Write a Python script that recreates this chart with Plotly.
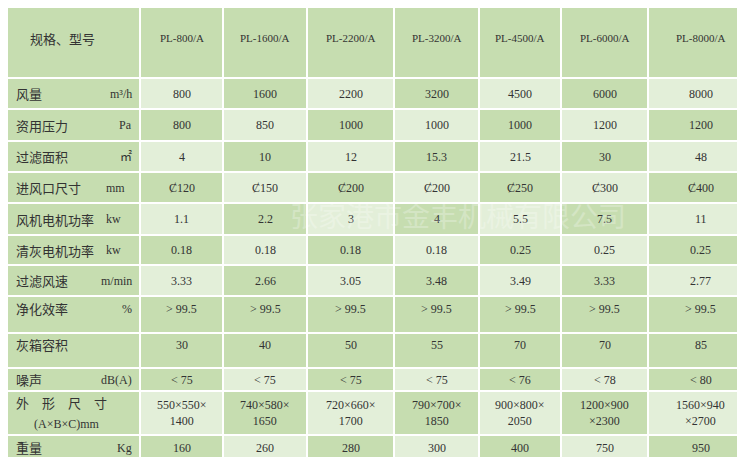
import plotly.graph_objects as go

models = ["PL-800/A","PL-1600/A","PL-2200/A","PL-3200/A","PL-4500/A","PL-6000/A","PL-8000/A"]
row_names = ["风量","资用压力","过滤面积","进风口尺寸","风机电机功率","清灰电机功率","过滤风速","净化效率","灰箱容积","噪声","外　形　尺　寸","重量"]
row_units = ["m³/h","Pa","㎡","mm","kw","kw","m/min","%","","dB(A)","(A×B×C)mm","Kg"]
values = [
    ["800","1600","2200","3200","4500","6000","8000"],
    ["800","850","1000","1000","1000","1200","1200"],
    ["4","10","12","15.3","21.5","30","48"],
    ["Ȼ120","Ȼ150","Ȼ200","Ȼ200","Ȼ250","Ȼ300","Ȼ400"],
    ["1.1","2.2","3","4","5.5","7.5","11"],
    ["0.18","0.18","0.18","0.18","0.25","0.25","0.25"],
    ["3.33","2.66","3.05","3.48","3.49","3.33","2.77"],
    ["> 99.5"]*7,
    ["30","40","50","55","70","70","85"],
    ["< 75","< 75","< 75","< 75","< 76","< 78","< 80"],
    ["550×550×<br>1400","740×580×<br>1650","720×660×<br>1700","790×700×<br>1850","900×800×<br>2050","1200×900<br>×2300","1560×940<br>×2700"],
    ["160","260","280","300","400","750","950"],
]
watermark = "张家港市金丰机械有限公司"

W, H = 745, 457
col_x = [0, 132, 215, 299, 386, 471, 553, 640, 745]
row_y = [0, 70, 101, 133, 164, 195, 227, 257, 288, 325, 360, 383, 427, 452]
base = "#c6ddb0"
light = "#e3efd9"
font = "Liberation Serif, Noto Sans CJK SC, serif"
cjk = "Noto Sans CJK SC"

fig = go.Figure()
shapes, ann = [], []
shapes.append(dict(type="rect", x0=0, x1=W, y0=0, y1=H, fillcolor=base, line_width=0, layer="below"))
for r in range(len(row_names)):
    for c in range(7):
        if (r + c) % 2 == 0 and r not in (7, 8):
            shapes.append(dict(type="rect", x0=col_x[c+1]+1, x1=col_x[c+2]-1, y0=row_y[r+1]+1, y1=row_y[r+2]-1,
                               fillcolor=light, line_width=0, layer="below"))
for x in col_x[1:-1]:
    shapes.append(dict(type="line", x0=x, x1=x, y0=0, y1=row_y[-1], line=dict(color="white", width=2)))
for y in row_y[1:]:
    shapes.append(dict(type="line", x0=0, x1=W, y0=y, y1=y, line=dict(color="white", width=2)))

ann.append(dict(x=20, y=30, text="规格、型号", xanchor="left", showarrow=False, font=dict(size=13, color="#333", family=cjk)))
for c, m in enumerate(models):
    ann.append(dict(x=(col_x[c+1]+col_x[c+2])/2, y=30, text=m, showarrow=False, font=dict(size=11, color="#333", family=font)))
for r, name in enumerate(row_names):
    yc = (row_y[r+1]+row_y[r+2])/2
    ty = yc - 6 if r in (7, 8) else yc
    if r == 10:
        ann.append(dict(x=6, y=row_y[r+1]+11, text=name, xanchor="left", showarrow=False, font=dict(size=13, color="#333", family=cjk)))
        ann.append(dict(x=24, y=row_y[r+1]+33, text=row_units[r], xanchor="left", showarrow=False, font=dict(size=12, color="#333", family=font)))
    else:
        ann.append(dict(x=6, y=ty, text=name, xanchor="left", showarrow=False, font=dict(size=13, color="#333", family=cjk)))
        if row_units[r]:
            left = r in (3, 4, 5)
            ann.append(dict(x=96 if left else 126, y=ty, text=row_units[r], xanchor="left" if left else "right",
                            showarrow=False, font=dict(size=12, color="#333", family=font)))
    for c in range(7):
        ann.append(dict(x=(col_x[c+1]+col_x[c+2])/2, y=ty, text=values[r][c], showarrow=False,
                        font=dict(size=12, color="#333", family=font)))
ann.append(dict(x=450, y=207, text=watermark, showarrow=False, opacity=0.25,
                font=dict(size=28, color="white", family=cjk)))

fig.add_trace(go.Scatter(x=[0, W], y=[0, H], mode="markers", marker=dict(opacity=0), hoverinfo="skip"))
fig.update_layout(width=W, height=H, margin=dict(l=0, r=0, t=0, b=0), showlegend=False,
                  paper_bgcolor=base, plot_bgcolor=base, shapes=shapes, annotations=ann,
                  xaxis=dict(range=[0, W], visible=False, fixedrange=True),
                  yaxis=dict(range=[H, 0], visible=False, fixedrange=True))
fig.write_html("out.html")
